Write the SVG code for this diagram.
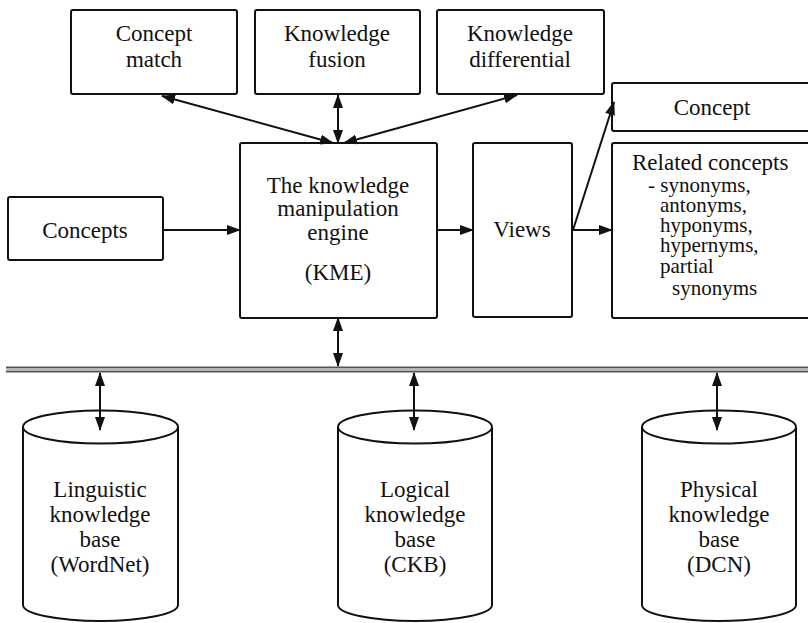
<svg xmlns="http://www.w3.org/2000/svg" width="808" height="623" viewBox="0 0 808 623">
  <style>
    .box { fill: #fff; stroke: #111; stroke-width: 2; }
    .cyl { fill: #fff; stroke: #111; stroke-width: 2; }
    .lbl { font-size: 23px; fill: #111; text-anchor: middle; }
    .lft { text-anchor: start; }
    .sm { font-size: 21px; }
    .wire { stroke: #111; stroke-width: 2; fill: none; }
    .bus { stroke: #555; stroke-width: 2; }
  </style>
  <defs>
    <marker id="head" viewBox="0 0 14 10" refX="13" refY="5" markerWidth="14" markerHeight="10" markerUnits="userSpaceOnUse" orient="auto-start-reverse">
      <path d="M0,0 L14,5 L0,10 Z" fill="#111"/>
    </marker>
  </defs>

  <rect width="808" height="623" fill="#fff"/>

  <!-- shared data bus -->
  <g id="bus">
    <line class="bus" x1="6" y1="367.5" x2="808" y2="367.5"/>
    <line class="bus" x1="6" y1="371.5" x2="808" y2="371.5"/>
    <line x1="6" y1="369.5" x2="808" y2="369.5" stroke="#bbb" stroke-width="2"/>
  </g>

  <g font-family="Liberation Serif, Times New Roman, Tinos, Noto Serif, DejaVu Serif, serif">
  <g id="concept-match">
    <rect class="box" x="71" y="10" width="166" height="84" rx="2"/>
    <text class="lbl" x="154" y="41">Concept</text>
    <text class="lbl" x="154" y="67">match</text>
  </g>

  <g id="knowledge-fusion">
    <rect class="box" x="255" y="10" width="165" height="84" rx="2"/>
    <text class="lbl" x="337" y="41">Knowledge</text>
    <text class="lbl" x="337" y="67">fusion</text>
  </g>

  <g id="knowledge-differential">
    <rect class="box" x="437" y="10" width="167" height="84" rx="2"/>
    <text class="lbl" x="520" y="41">Knowledge</text>
    <text class="lbl" x="520" y="67">differential</text>
  </g>

  <g id="concepts">
    <rect class="box" x="8" y="197" width="155" height="63" rx="2"/>
    <text class="lbl" x="85" y="238">Concepts</text>
  </g>

  <g id="kme">
    <rect class="box" x="240" y="143" width="197" height="175" rx="2"/>
    <text class="lbl" x="338" y="193">The knowledge</text>
    <text class="lbl" x="338" y="216">manipulation</text>
    <text class="lbl" x="338" y="240">engine</text>
    <text class="lbl" x="338" y="280">(KME)</text>
  </g>

  <g id="views">
    <rect class="box" x="473" y="143" width="99" height="174" rx="2"/>
    <text class="lbl" x="522" y="237">Views</text>
  </g>

  <g id="concept">
    <rect class="box" x="612" y="83" width="202" height="48" rx="2"/>
    <text class="lbl" x="712" y="115">Concept</text>
  </g>

  <g id="related-concepts">
    <rect class="box" x="612" y="143" width="202" height="175" rx="2"/>
    <text class="lbl lft" x="632" y="170">Related concepts</text>
    <text class="lbl lft sm" x="648" y="192">- synonyms,</text>
    <text class="lbl lft sm" x="660" y="212">antonyms,</text>
    <text class="lbl lft sm" x="660" y="232">hyponyms,</text>
    <text class="lbl lft sm" x="660" y="252">hypernyms,</text>
    <text class="lbl lft sm" x="660" y="273">partial</text>
    <text class="lbl lft sm" x="672" y="295">synonyms</text>
  </g>

  <g id="linguistic-kb">
    <path class="cyl" d="M23,427 L23,605 A77.5,16 0 0 0 178,605 L178,427"/>
    <ellipse class="cyl" cx="100.5" cy="427" rx="77.5" ry="16.5"/>
    <text class="lbl" x="100" y="497">Linguistic</text>
    <text class="lbl" x="100" y="522">knowledge</text>
    <text class="lbl" x="100" y="547">base</text>
    <text class="lbl" x="100" y="572">(WordNet)</text>
  </g>

  <g id="logical-kb">
    <path class="cyl" d="M338,427 L338,605 A77,16 0 0 0 492,605 L492,427"/>
    <ellipse class="cyl" cx="415" cy="427" rx="77" ry="16.5"/>
    <text class="lbl" x="415" y="497">Logical</text>
    <text class="lbl" x="415" y="522">knowledge</text>
    <text class="lbl" x="415" y="547">base</text>
    <text class="lbl" x="415" y="572">(CKB)</text>
  </g>

  <g id="physical-kb">
    <path class="cyl" d="M642,427 L642,605 A77,16 0 0 0 796,605 L796,427"/>
    <ellipse class="cyl" cx="719" cy="427" rx="77" ry="16.5"/>
    <text class="lbl" x="719" y="497">Physical</text>
    <text class="lbl" x="719" y="522">knowledge</text>
    <text class="lbl" x="719" y="547">base</text>
    <text class="lbl" x="719" y="572">(DCN)</text>
  </g>
  </g>

  <g id="connectors">
    <line class="wire" x1="162" y1="96" x2="333" y2="143" marker-start="url(#head)" marker-end="url(#head)"/>
    <line class="wire" x1="338" y1="95" x2="338" y2="143" marker-start="url(#head)" marker-end="url(#head)"/>
    <line class="wire" x1="517" y1="95" x2="344" y2="143" marker-start="url(#head)" marker-end="url(#head)"/>
    <line class="wire" x1="163" y1="230" x2="240" y2="230" marker-end="url(#head)"/>
    <line class="wire" x1="437" y1="230" x2="473" y2="230" marker-end="url(#head)"/>
    <line class="wire" x1="572" y1="230" x2="612" y2="230" marker-end="url(#head)"/>
    <line class="wire" x1="573" y1="230" x2="614" y2="102" marker-end="url(#head)"/>
    <line class="wire" x1="338" y1="318" x2="338" y2="366" marker-start="url(#head)" marker-end="url(#head)"/>
    <line class="wire" x1="100" y1="373" x2="100" y2="430" marker-start="url(#head)" marker-end="url(#head)"/>
    <line class="wire" x1="414" y1="373" x2="414" y2="430" marker-start="url(#head)" marker-end="url(#head)"/>
    <line class="wire" x1="717" y1="373" x2="717" y2="430" marker-start="url(#head)" marker-end="url(#head)"/>
  </g>
</svg>
